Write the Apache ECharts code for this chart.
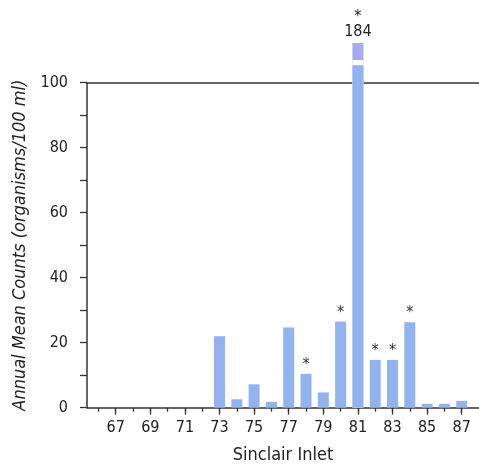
<!DOCTYPE html>
<html><head><meta charset="utf-8">
<script src="https://cdn.jsdelivr.net/npm/echarts@6/dist/echarts.min.js"></script>
<style>html,body{margin:0;padding:0;background:#fff}#c{width:479px;height:474px}</style>
</head><body><div id="c"></div>
<script>
// Data
var years = [66,67,68,69,70,71,72,73,74,75,76,77,78,79,80,81,82,83,84,85,86,87];
var counts = [0,0,0,0,0,0,0,22,2.6,7.2,1.8,24.7,10.4,4.7,26.5,184,14.7,14.7,26.3,1.2,1.2,2.1];
var flagged = [78,80,81,82,83,84]; // years marked with *
var labelYears = [67,69,71,73,75,77,79,81,83,85,87];
var yTop = 100; // axis break: values above are drawn as a broken bar

var FONT = '"Liberation Sans Narrow","DejaVu Sans Condensed","Roboto Condensed",sans-serif';
var STUB = 5.4, GAP = 1.6, CAP = 5.2; // broken-bar drawing sizes (axis units)

var lower = [], gapPart = [], capPart = [];
years.forEach(function(y, i){
  var v = counts[i];
  var broken = v > yTop;
  lower.push([y, broken ? yTop + STUB : v]);
  gapPart.push([y, broken ? yTop + STUB + GAP : 0]);
  capPart.push([y, broken ? yTop + STUB + GAP + CAP : 0]);
});

function starLabel(idx, isCap){
  var y = years[idx], v = counts[idx];
  if (flagged.indexOf(y) < 0) return '';
  if (v > yTop) return isCap ? '{s|*}\n{n|' + v + '}' : '';
  return isCap ? '' : '*';
}

var chart = echarts.init(document.getElementById('c'));
chart.setOption({
  animation: false,
  grid: {left: 87, right: 0, top: 82.7, bottom: 66.3},
  xAxis: [{
    type: 'value', min: 65.34, max: 88, position: 'bottom',
    name: 'Sinclair Inlet', nameLocation: 'middle', nameGap: 39,
    nameTextStyle: {fontFamily: FONT, fontSize: 18, color: '#222'},
    axisLine: {show: true, lineStyle: {color: '#333', width: 1.5}},
    axisTick: {show: true, length: 4, customValues: years, lineStyle: {color: '#333', width: 1.3}},
    axisLabel: {customValues: labelYears, margin: 12, fontFamily: FONT, fontSize: 16, color: '#222'},
    splitLine: {show: false}
  }, {
    type: 'value', min: 65.34, max: 88, position: 'bottom',
    axisLine: {show: false},
    axisTick: {show: true, length: 7, customValues: labelYears, lineStyle: {color: '#333', width: 1.3}},
    axisLabel: {show: false},
    splitLine: {show: false}
  }, {
    type: 'value', min: 65.34, max: 88, position: 'top',
    axisLine: {show: true, lineStyle: {color: '#333', width: 1.5}},
    axisTick: {show: false}, axisLabel: {show: false}, splitLine: {show: false}
  }],
  yAxis: {
    type: 'value', min: 0, max: yTop, interval: 10,
    name: 'Annual Mean Counts (organisms/100 ml)', nameLocation: 'middle', nameGap: 56,
    nameTextStyle: {fontFamily: FONT, fontSize: 18, fontStyle: 'italic', color: '#222'},
    axisLine: {show: true, lineStyle: {color: '#333', width: 1.5}},
    axisTick: {show: true, length: 7, lineStyle: {color: '#333', width: 1.3}},
    axisLabel: {margin: 19, fontFamily: FONT, fontSize: 16, color: '#222',
      formatter: function(v){ return v % 20 === 0 ? String(v) : ''; }},
    splitLine: {show: false}
  },
  series: [{
    type: 'bar', clip: false, barWidth: 11, barGap: '-100%', xAxisIndex: 0, z: 2,
    data: capPart, itemStyle: {color: '#aaa8ee'},
    label: {show: true, position: 'top', distance: 3, color: '#222',
      rich: {s: {fontFamily: FONT, fontSize: 16, lineHeight: 12, align: 'center'},
             n: {fontFamily: FONT, fontSize: 16, lineHeight: 17, align: 'center'}},
      formatter: function(p){ return starLabel(p.dataIndex, true); }}
  }, {
    type: 'bar', clip: false, barWidth: 11, barGap: '-100%', xAxisIndex: 0, z: 3,
    data: gapPart, itemStyle: {color: '#ffffff'}
  }, {
    type: 'bar', clip: false, barWidth: 11, barGap: '-100%', xAxisIndex: 0, z: 4,
    data: lower,
    itemStyle: {color: '#93b3ef'},
    label: {show: true, position: 'top', distance: 1, fontFamily: FONT, fontSize: 16, color: '#333',
      formatter: function(p){ return starLabel(p.dataIndex, false); }}
  }]
});
</script></body></html>
